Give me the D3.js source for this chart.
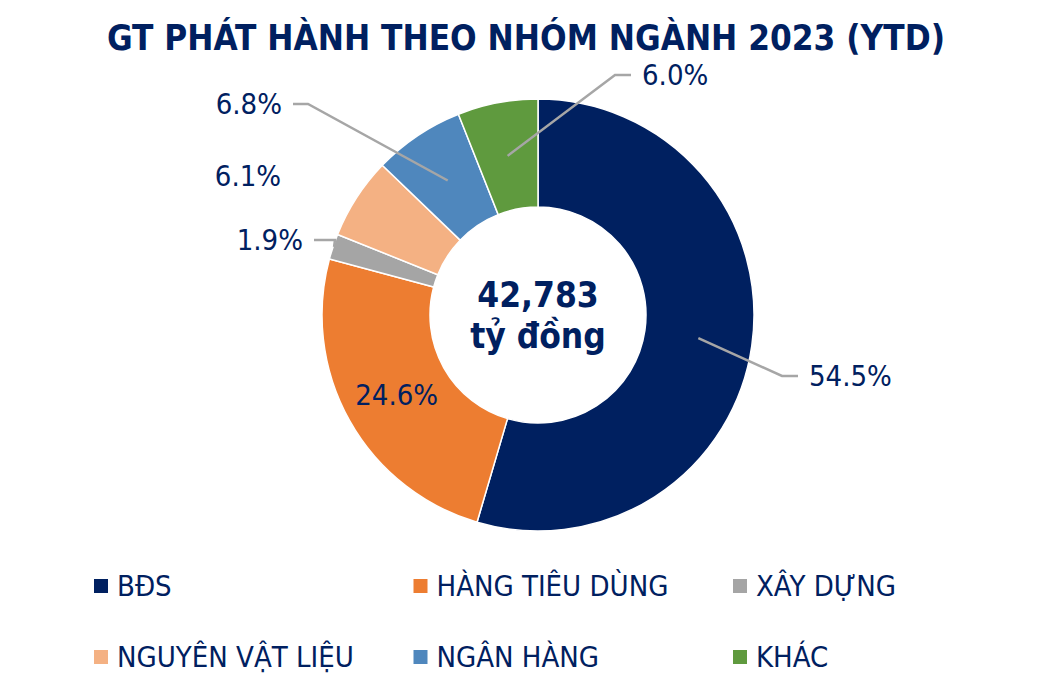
<!DOCTYPE html>
<html>
<head>
<meta charset="utf-8">
<script src="https://cdn.jsdelivr.net/npm/d3@7"></script>
<style>
  html, body { margin: 0; padding: 0; background: #fff; }
  svg text { font-family: "DejaVu Sans Condensed", "DejaVu Sans", sans-serif; font-stretch: condensed; }
</style>
</head>
<body>
<svg id="chart"></svg>
<script>
// số liệu
const categories = ['BĐS', 'HÀNG TIÊU DÙNG', 'XÂY DỰNG', 'NGUYÊN VẬT LIỆU', 'NGÂN HÀNG', 'KHÁC'];
const shares = [54.5, 24.6, 1.9, 6.1, 6.8, 6.0];
const colors = ['#002060', '#ED7D31', '#A5A5A5', '#F4B183', '#4F87BD', '#5F9A3E'];
const totalValue = '42,783';
const totalUnit = 'tỷ đồng';
const title = 'GT PHÁT HÀNH THEO NHÓM NGÀNH 2023 (YTD)';

// vị trí nhãn (đặt tay như trong Excel), tính từ tâm vòng tròn
// elbow: điểm gãy của đường dẫn, side: 1 = nhãn bên phải, -1 = bên trái, 0 = không có đường dẫn
const labelLayout = [
  { elbow: [244, 61], side: 1, leg: 16, anchorR: 'mid' },
  { elbow: null, side: 0, inside: true },
  { elbow: [-203, -75], side: -1, leg: 21, anchorR: 'outer' },
  { elbow: [-290, -139], side: 0 },
  { elbow: [-230, -211], side: -1, leg: 15, anchorR: 'mid' },
  { elbow: [77, -240], side: 1, leg: 16, anchorR: 'mid' }
];

const width = 1051;
const height = 699;
const cx = 538, cy = 315;
const outerR = 216, innerR = 108;
const textColor = '#002060';

const svg = d3.select('#chart')
  .attr('width', width)
  .attr('height', height);

svg.append('text')
  .attr('x', 526)
  .attr('y', 50)
  .attr('text-anchor', 'middle')
  .attr('textLength', 838)
  .attr('lengthAdjust', 'spacingAndGlyphs')
  .style('font-size', '36px')
  .style('font-weight', 'bold')
  .style('fill', textColor)
  .text(title);

const g = svg.append('g')
  .attr('transform', `translate(${cx},${cy})`);

const pie = d3.pie().sort(null).value(d => d);
const arcs = pie(shares);

const arc = d3.arc().innerRadius(innerR).outerRadius(outerR);
const midArc = d3.arc().innerRadius((innerR + outerR) / 2).outerRadius((innerR + outerR) / 2);

g.selectAll('path.slice')
  .data(arcs)
  .enter()
  .append('path')
  .attr('class', 'slice')
  .attr('d', arc)
  .attr('fill', (d, i) => colors[i])
  .attr('stroke', '#fff')
  .attr('stroke-width', 1.5);

// đường dẫn và nhãn %
arcs.forEach((d, i) => {
  const lay = labelLayout[i];
  const label = d3.format('.1f')(shares[i]) + '%';
  const [mx, my] = midArc.centroid(d);

  if (lay.inside) {
    g.append('text')
      .attr('x', mx)
      .attr('y', my)
      .attr('dy', '0.36em')
      .attr('text-anchor', 'middle')
      .style('font-size', '29px')
      .style('fill', textColor)
      .text(label);
    return;
  }

  const [ex, ey] = lay.elbow;
  if (lay.side !== 0) {
    let start = [mx, my];
    if (lay.anchorR === 'outer') {
      const a = (d.startAngle + d.endAngle) / 2;
      start = [Math.sin(a) * (outerR - 1), -Math.cos(a) * (outerR - 1)];
    }
    const end = [ex + lay.side * lay.leg, ey];
    g.append('path')
      .attr('d', d3.line()([start, [ex, ey], end]))
      .attr('fill', 'none')
      .attr('stroke', '#A6A6A6')
      .attr('stroke-width', 2.5);
    g.append('text')
      .attr('x', end[0] + lay.side * 11)
      .attr('y', ey)
      .attr('dy', '0.36em')
      .attr('text-anchor', lay.side > 0 ? 'start' : 'end')
      .style('font-size', '29px')
      .style('fill', textColor)
      .text(label);
  } else {
    g.append('text')
      .attr('x', ex)
      .attr('y', ey)
      .attr('dy', '0.36em')
      .attr('text-anchor', 'middle')
      .style('font-size', '29px')
      .style('fill', textColor)
      .text(label);
  }
});

// tổng ở giữa
g.append('text')
  .attr('x', 0)
  .attr('y', -8)
  .attr('text-anchor', 'middle')
  .style('font-size', '35px')
  .style('font-weight', 'bold')
  .style('fill', textColor)
  .text(totalValue);

g.append('text')
  .attr('x', 0)
  .attr('y', 33)
  .attr('text-anchor', 'middle')
  .style('font-size', '35px')
  .style('font-weight', 'bold')
  .style('fill', textColor)
  .text(totalUnit);

// chú thích
const legendX = d3.scalePoint().domain([0, 1, 2]).range([94, 733]);
const legendY = d3.scalePoint().domain([0, 1]).range([586, 657]);

const legend = svg.selectAll('g.legend')
  .data(categories)
  .enter()
  .append('g')
  .attr('class', 'legend')
  .attr('transform', (d, i) => `translate(${legendX(i % 3)},${legendY(Math.floor(i / 3))})`);

legend.append('rect')
  .attr('x', 0)
  .attr('y', -7)
  .attr('width', 14)
  .attr('height', 14)
  .attr('fill', (d, i) => colors[i]);

legend.append('text')
  .attr('x', 23)
  .attr('y', 0)
  .attr('dy', '0.36em')
  .style('font-size', '29px')
  .style('fill', textColor)
  .text(d => d);
</script>
</body>
</html>
